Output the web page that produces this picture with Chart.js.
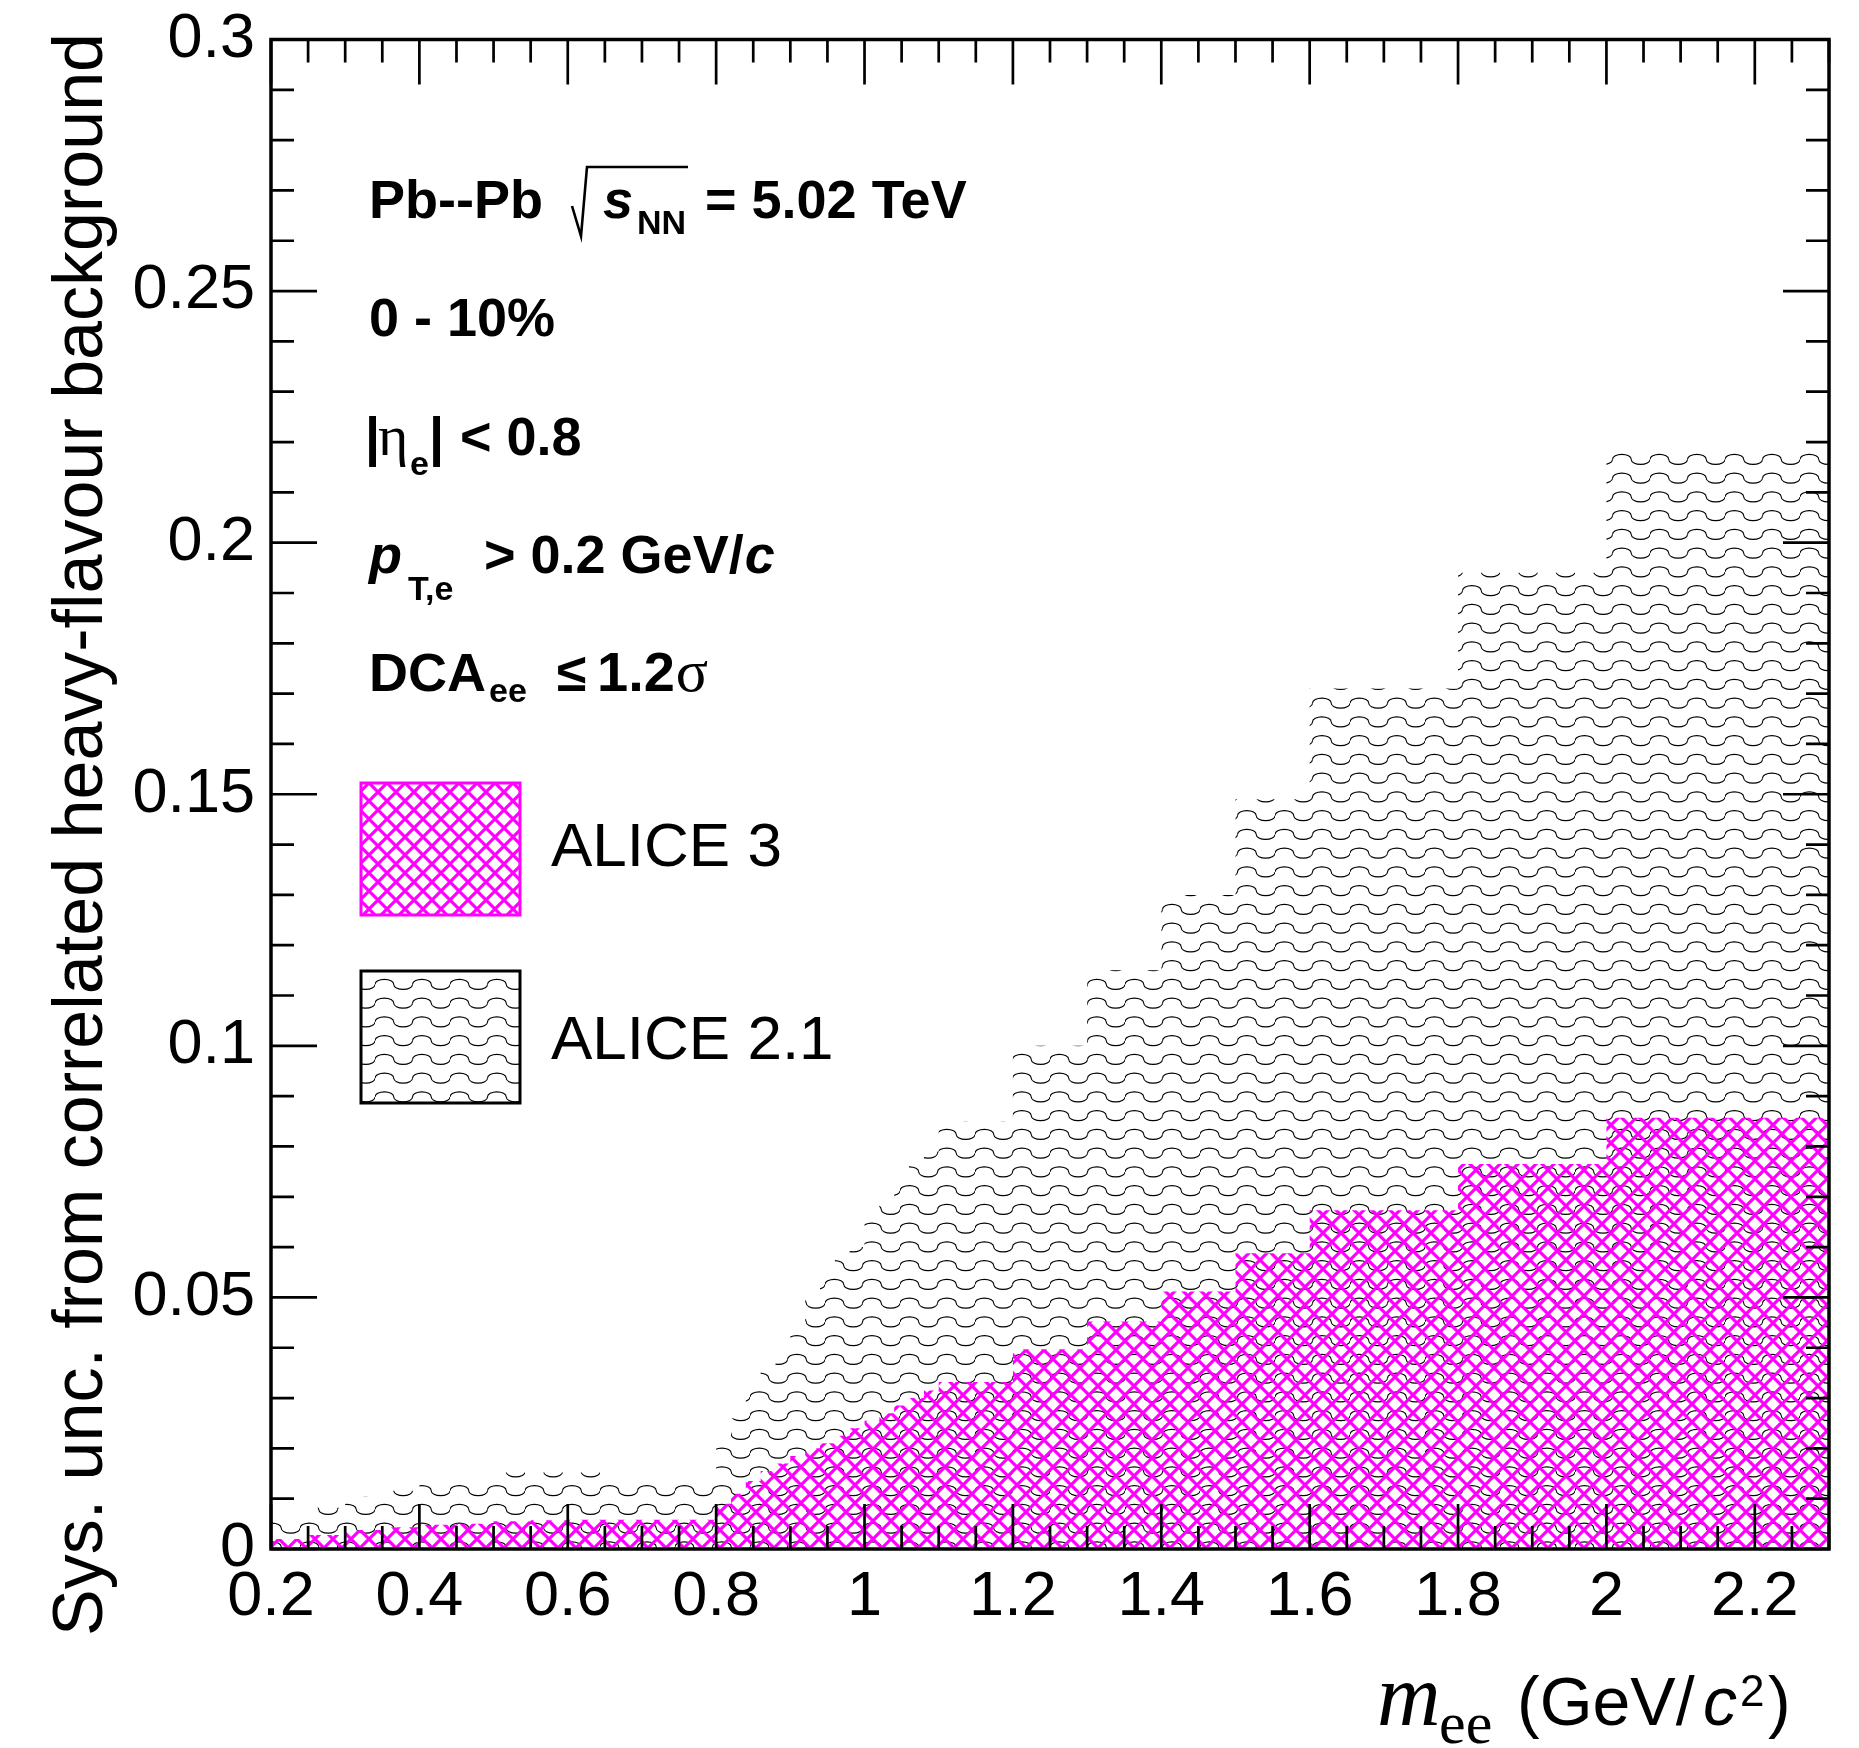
<!DOCTYPE html>
<html>
<head>
<meta charset="utf-8">
<title>Sys. unc. from correlated heavy-flavour background</title>
<script src="https://cdn.jsdelivr.net/npm/chart.js@4.4.1/dist/chart.umd.min.js"></script>
<style>
  html, body { margin: 0; padding: 0; background: #fff; }
  #chart { display: block; }
</style>
</head>
<body>
<canvas id="chart" width="1859" height="1748"></canvas>
<script>
// low edges of the mass bins (GeV/c^2), last entry closes the last bin
const binEdges = [0.2, 0.25, 0.3, 0.35, 0.4, 0.45, 0.5, 0.55, 0.6, 0.65, 0.7, 0.75,
  0.8, 0.82, 0.84, 0.86, 0.88, 0.9, 0.92, 0.94, 0.96, 0.98, 1.0, 1.02, 1.04, 1.06, 1.08,
  1.1, 1.2, 1.3, 1.4, 1.5, 1.6, 1.8, 2.0, 2.3];

const alice3Unc = [0.0020, 0.0028, 0.0038, 0.0043, 0.0048, 0.0050, 0.0055, 0.0057, 0.0058, 0.0058, 0.0058, 0.0058,
  0.009, 0.011, 0.0135, 0.0155, 0.017, 0.0185, 0.020, 0.021, 0.0225, 0.024, 0.0255, 0.027, 0.0285, 0.030, 0.0315,
  0.0332, 0.0397, 0.0452, 0.0512, 0.0588, 0.0673, 0.0765, 0.0857];

const alice21Unc = [0.0065, 0.0082, 0.0105, 0.0116, 0.0135, 0.0135, 0.0152, 0.0152, 0.0152, 0.0135, 0.0135, 0.0135,
  0.021, 0.026, 0.032, 0.036, 0.040, 0.044, 0.050, 0.054, 0.059, 0.060, 0.065, 0.069, 0.073, 0.077, 0.079,
  0.085, 0.100, 0.115, 0.130, 0.149, 0.171, 0.194, 0.219];

const xTickLabels = [0.2, 0.4, 0.6, 0.8, 1.0, 1.2, 1.4, 1.6, 1.8, 2.0, 2.2];
const yTickLabels = [0, 0.05, 0.1, 0.15, 0.2, 0.25, 0.3];
const xRange = [0.2, 2.3];
const yRange = [0, 0.3];

const SANS = '"Liberation Sans", Arial, Helvetica, sans-serif';
const SERIF = '"Liberation Serif", "Times New Roman", serif';

function histPoints(values) {
  // one point per bin low edge + the closing edge, drawn as a step line
  return binEdges.map((x, i) => ({ x, y: values[Math.min(i, values.length - 1)] }));
}

function crossHatch(ctx) {
  const p = 18;
  const tile = document.createElement('canvas');
  tile.width = p;
  tile.height = p;
  const t = tile.getContext('2d');
  t.strokeStyle = '#ff00ff';
  t.lineWidth = 3.1;
  t.beginPath();
  for (let k = -1; k <= 1; k += 1) {
    t.moveTo(k * p - p, -p);
    t.lineTo(k * p + 2 * p, 2 * p);
    t.moveTo(k * p - p, 2 * p);
    t.lineTo(k * p + 2 * p, -p);
  }
  t.stroke();
  return ctx.createPattern(tile, 'repeat');
}

function wavePattern(ctx) {
  const period = 37.5;
  const row = 18.75;
  const tile = document.createElement('canvas');
  tile.width = 75;
  tile.height = 75;
  const t = tile.getContext('2d');
  t.strokeStyle = '#000';
  t.lineWidth = 1.1;
  for (let r = 0; r < 4; r += 1) {
    const yc = r * row + row / 2;
    for (let k = 0; k < 2; k += 1) {
      const x0 = k * period;
      t.beginPath();
      t.ellipse(x0 + period / 4, yc, period / 4, 5, 0, Math.PI, 2 * Math.PI);
      t.ellipse(x0 + 3 * period / 4, yc, period / 4, 5, 0, Math.PI, 0, true);
      t.stroke();
    }
  }
  return ctx.createPattern(tile, 'repeat');
}

function put(ctx, text, font, x, y) {
  ctx.font = font;
  ctx.fillText(text, x, y);
  return x + ctx.measureText(text).width;
}

const B54 = `bold 54px ${SANS}`;
const BI54 = `italic bold 54px ${SANS}`;
const B34 = `bold 34px ${SANS}`;

// frame, inward ticks, axis titles, labels and legend in ROOT style
const rootFrame = {
  id: 'rootFrame',
  afterDraw(chart) {
    const { ctx, chartArea: a, scales: { x, y } } = chart;
    ctx.save();

    ctx.strokeStyle = '#000';
    ctx.lineWidth = 2.7;
    ctx.beginPath();
    for (let i = 0; ; i += 1) {
      const v = xRange[0] + i * 0.05;
      if (v > xRange[1] + 1e-9) break;
      const px = x.getPixelForValue(v);
      const major = Math.abs(v / 0.2 - Math.round(v / 0.2)) < 1e-6;
      const len = major ? 45 : 23;
      ctx.moveTo(px, a.bottom); ctx.lineTo(px, a.bottom - len);
      ctx.moveTo(px, a.top); ctx.lineTo(px, a.top + len);
    }
    for (let i = 0; ; i += 1) {
      const v = yRange[0] + i * 0.01;
      if (v > yRange[1] + 1e-9) break;
      const py = y.getPixelForValue(v);
      const len = i % 5 === 0 ? 46 : 23;
      ctx.moveTo(a.left, py); ctx.lineTo(a.left + len, py);
      ctx.moveTo(a.right, py); ctx.lineTo(a.right - len, py);
    }
    ctx.stroke();

    ctx.lineWidth = 3.5;
    ctx.strokeRect(a.left, a.top, a.right - a.left, a.bottom - a.top);

    ctx.fillStyle = '#000';
    ctx.textBaseline = 'alphabetic';
    ctx.textAlign = 'left';

    // y title
    ctx.save();
    ctx.translate(102, 33);
    ctx.rotate(-Math.PI / 2);
    ctx.textAlign = 'right';
    ctx.font = `70px ${SANS}`;
    ctx.fillText('Sys. unc. from correlated heavy-flavour background', 0, 0);
    ctx.restore();

    // x title
    put(ctx, 'm', `italic 88px ${SERIF}`, 1377, 1725);
    put(ctx, 'ee', `60px ${SERIF}`, 1439, 1743);
    put(ctx, '(GeV/', `68px ${SANS}`, 1517, 1725);
    put(ctx, 'c', `italic 68px ${SANS}`, 1703, 1725);
    put(ctx, '2', `44px ${SANS}`, 1740, 1706);
    put(ctx, ')', `68px ${SANS}`, 1768, 1725);

    // system / selection text
    put(ctx, 'Pb--Pb', B54, 369, 218);
    ctx.lineWidth = 2.6;
    ctx.beginPath();
    ctx.moveTo(572, 206);
    ctx.lineTo(581, 236);
    ctx.lineTo(587, 167);
    ctx.lineTo(688, 167);
    ctx.stroke();
    put(ctx, 's', BI54, 603, 218);
    put(ctx, 'NN', B34, 637, 234);
    put(ctx, '= 5.02 TeV', B54, 705, 218);

    put(ctx, '0 - 10%', B54, 369, 336);

    put(ctx, '|', B54, 365, 455);
    put(ctx, 'η', `58px ${SERIF}`, 378, 455);
    put(ctx, 'e', B34, 410, 475);
    put(ctx, '|', B54, 429, 455);
    put(ctx, '< 0.8', B54, 460, 455);

    put(ctx, 'p', BI54, 369, 573);
    put(ctx, 'T,e', B34, 408, 600);
    let cx = put(ctx, '> 0.2 GeV/', B54, 484, 573);
    put(ctx, 'c', BI54, cx + 1, 573);

    put(ctx, 'DCA', B54, 369, 691);
    put(ctx, 'ee', B34, 489, 702);
    put(ctx, '≤', B54, 557, 691);
    cx = put(ctx, '1.2', `bold 56px ${SANS}`, 597, 691);
    put(ctx, 'σ', `60px ${SERIF}`, cx + 1, 691);

    // legend
    const sets = chart.data.datasets;
    const boxes = [
      { ds: sets[0], y: 783, edge: '#ff00ff', text: 'ALICE 3', base: 866 },
      { ds: sets[1], y: 971, edge: '#000', text: 'ALICE 2.1', base: 1059 },
    ];
    boxes.forEach((b) => {
      ctx.fillStyle = b.ds.backgroundColor;
      ctx.fillRect(361, b.y, 159, 132);
      ctx.strokeStyle = b.edge;
      ctx.lineWidth = 3;
      ctx.strokeRect(361, b.y, 159, 132);
      ctx.fillStyle = '#000';
      put(ctx, b.text, `62px ${SANS}`, 551, b.base);
    });

    ctx.restore();
  },
};

const ctx = document.getElementById('chart').getContext('2d');
const fmt = (v) => String(Math.round(v * 100) / 100);

new Chart(ctx, {
  type: 'line',
  data: {
    datasets: [
      {
        label: 'ALICE 3',
        data: histPoints(alice3Unc),
        stepped: 'before',
        fill: 'origin',
        backgroundColor: crossHatch(ctx),
        borderColor: 'rgba(0,0,0,0)',
        borderWidth: 0,
        pointRadius: 0,
      },
      {
        label: 'ALICE 2.1',
        data: histPoints(alice21Unc),
        stepped: 'before',
        fill: 'origin',
        backgroundColor: wavePattern(ctx),
        borderColor: 'rgba(0,0,0,0)',
        borderWidth: 0,
        pointRadius: 0,
      },
    ],
  },
  options: {
    responsive: false,
    animation: false,
    devicePixelRatio: 1,
    layout: { padding: { top: 37, right: 30, left: 0, bottom: 0 } },
    plugins: { legend: { display: false }, tooltip: { enabled: false } },
    scales: {
      x: {
        type: 'linear',
        min: xRange[0],
        max: xRange[1],
        grid: { display: false },
        border: { display: false },
        afterBuildTicks: (s) => { s.ticks = xTickLabels.map((value) => ({ value })); },
        afterFit: (s) => { s.height = 199; },
        ticks: {
          font: { family: SANS, size: 63, lineHeight: 1 },
          color: '#000',
          padding: 9,
          maxRotation: 0,
          autoSkip: false,
          callback: fmt,
        },
      },
      y: {
        type: 'linear',
        min: yRange[0],
        max: yRange[1],
        grid: { display: false },
        border: { display: false },
        afterBuildTicks: (s) => { s.ticks = yTickLabels.map((value) => ({ value })); },
        afterFit: (s) => { s.width = 271; },
        ticks: {
          font: { family: SANS, size: 63, lineHeight: 1 },
          color: '#000',
          padding: 8,
          callback: fmt,
        },
      },
    },
  },
  plugins: [rootFrame],
});
</script>
</body>
</html>
